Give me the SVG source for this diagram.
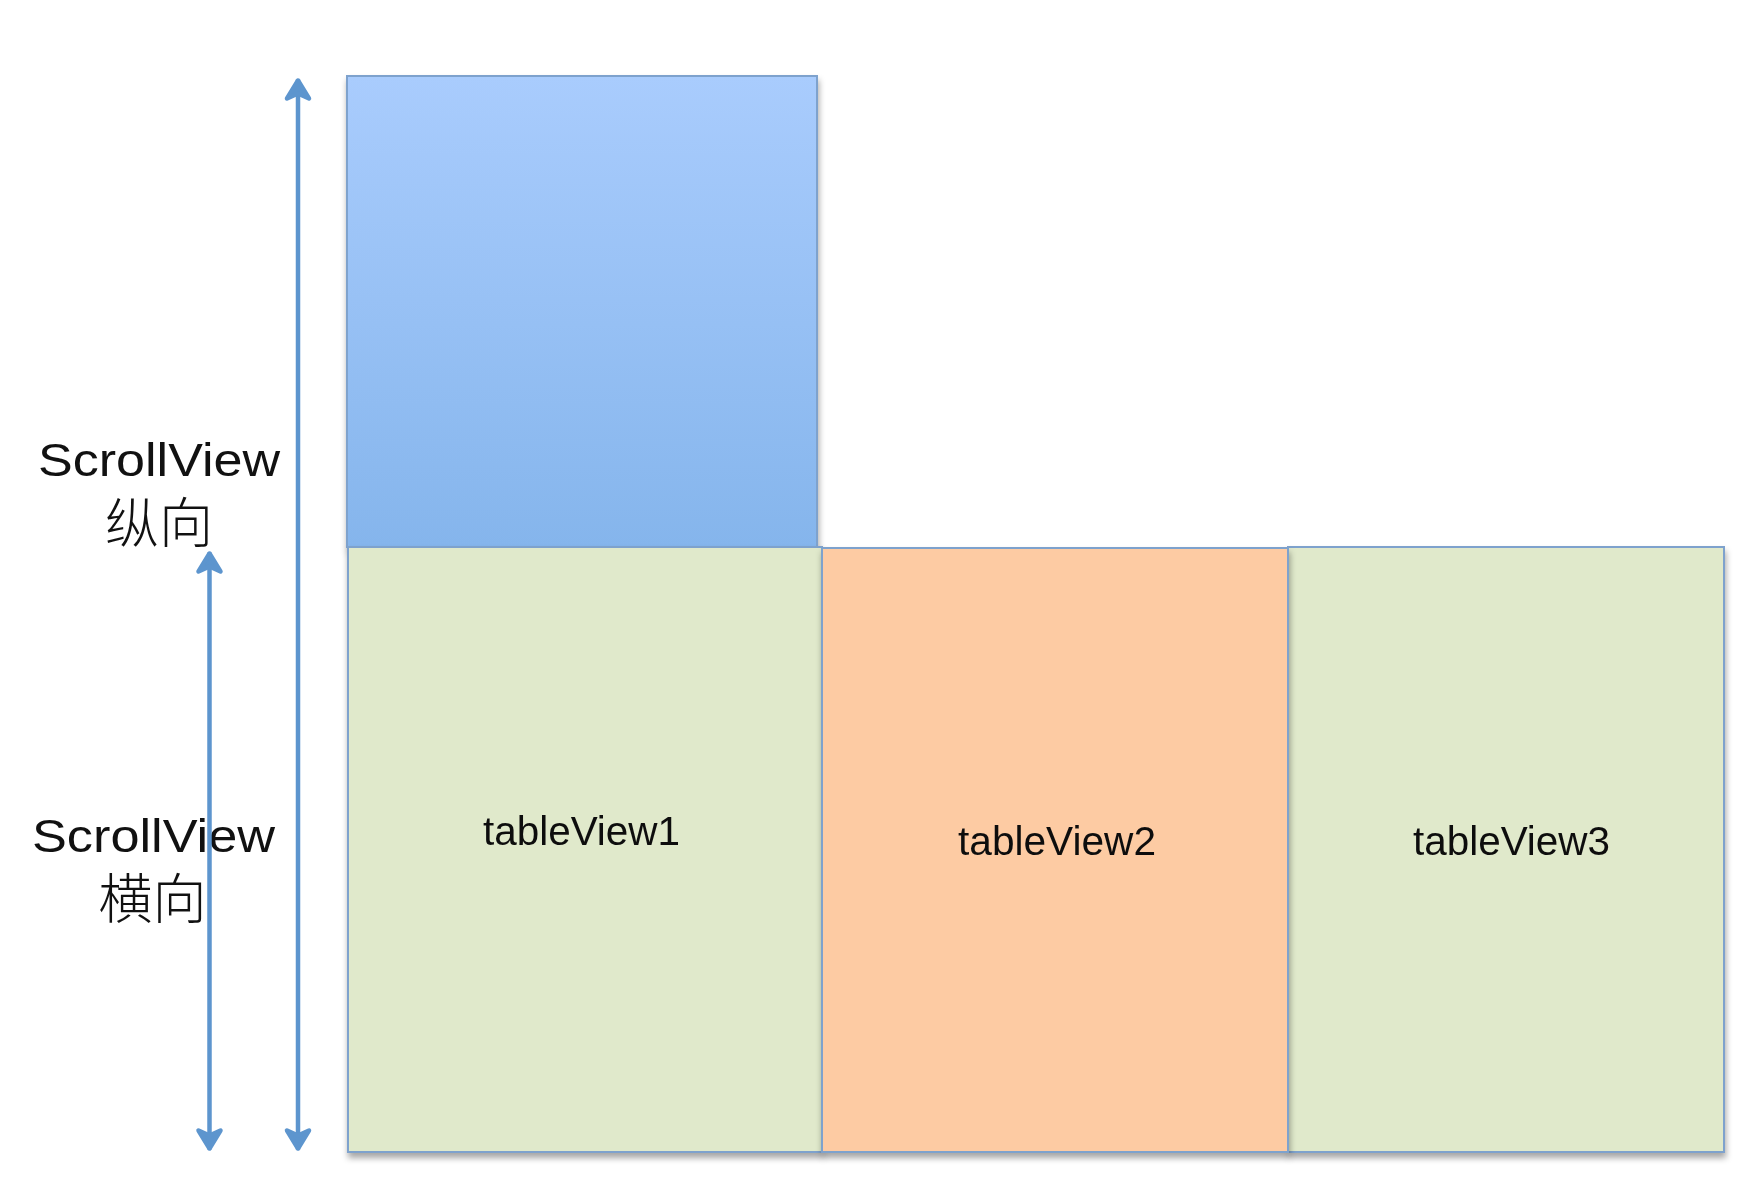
<svg xmlns="http://www.w3.org/2000/svg" width="1744" height="1196" viewBox="0 0 1744 1196">
  <style>
    .box { stroke: #7EA2CD; stroke-width: 2; }
    .lbl { font-family: "Liberation Sans", Arial, sans-serif; fill: #111111; }
    .cjk { font-family: "Noto Sans CJK SC", "Liberation Sans", sans-serif; font-weight: 300; fill: #111111; }
    .arrow { fill: none; stroke: #5D95CE; stroke-width: 4.5; }
  </style>
  <defs>
    <linearGradient id="blueGrad" x1="0" y1="0" x2="0" y2="1">
      <stop offset="0" stop-color="#A9CCFD"/>
      <stop offset="1" stop-color="#85B5EC"/>
    </linearGradient>
    <filter id="shadow" x="-5%" y="-5%" width="110%" height="112%">
      <feDropShadow dx="1" dy="5" stdDeviation="3" flood-color="#000000" flood-opacity="0.35"/>
    </filter>
    <marker id="head" markerUnits="userSpaceOnUse" viewBox="-26 -16 30 32" refX="0" refY="0" markerWidth="30" markerHeight="32" orient="auto-start-reverse" overflow="visible">
      <path d="M-19,-11 L-1,0 L-19,11 L-14,0 Z" fill="#5D95CE" stroke="#5D95CE" stroke-width="4.5" stroke-linejoin="round" stroke-linecap="round"/>
    </marker>
  </defs>

  <rect width="1744" height="1196" fill="#FFFFFF"/>

  <g id="scrollview-vertical-content" filter="url(#shadow)">
    <rect x="347" y="76" width="470" height="471" fill="url(#blueGrad)" class="box" stroke-width="1.5"/>
  </g>

  <g id="tableView1" filter="url(#shadow)">
    <rect x="348" y="547" width="474" height="605" fill="#E0E9CB" class="box"/>
    <text class="lbl" x="483" y="845" font-size="40" textLength="197" lengthAdjust="spacingAndGlyphs">tableView1</text>
  </g>

  <g id="tableView3" filter="url(#shadow)">
    <rect x="1288" y="547" width="436" height="605" fill="#E0E9CB" class="box"/>
    <text class="lbl" x="1413" y="855" font-size="40" textLength="197" lengthAdjust="spacingAndGlyphs">tableView3</text>
  </g>

  <g id="tableView2" filter="url(#shadow)">
    <rect x="822" y="548" width="466" height="604" fill="#FDCBA3" class="box" stroke-width="2.5"/>
    <text class="lbl" x="958" y="855" font-size="40" textLength="198" lengthAdjust="spacingAndGlyphs">tableView2</text>
  </g>

  <g id="label-vertical">
    <text class="lbl" x="38" y="476" font-size="47" textLength="242" lengthAdjust="spacingAndGlyphs">ScrollView</text>
    <text class="cjk" x="159" y="543" font-size="54" text-anchor="middle">纵向</text>
  </g>

  <g id="label-horizontal">
    <text class="lbl" x="32" y="852" font-size="47" textLength="243" lengthAdjust="spacingAndGlyphs">ScrollView</text>
    <text class="cjk" x="152.5" y="919" font-size="54" text-anchor="middle">横向</text>
  </g>

  <g id="connectors">
    <path class="arrow" d="M298,1149.5 L298,79.5" marker-start="url(#head)" marker-end="url(#head)"/>
    <path class="arrow" d="M209.5,1149.5 L209.5,552.5" marker-start="url(#head)" marker-end="url(#head)"/>
  </g>
</svg>
